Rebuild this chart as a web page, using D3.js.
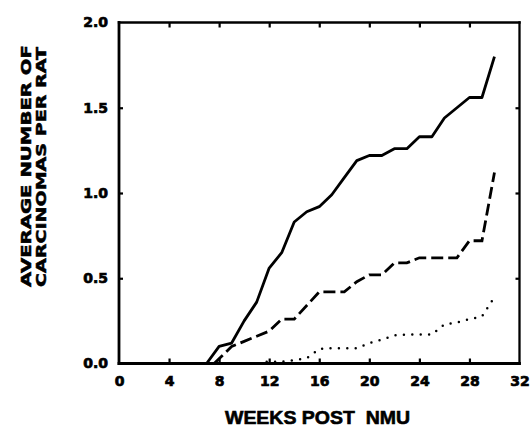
<!DOCTYPE html>
<html>
<head>
<meta charset="utf-8">
<script src="https://cdn.jsdelivr.net/npm/d3@7"></script>
<style>
  html, body { margin: 0; padding: 0; background: #fff; }
  svg { display: block; }
</style>
</head>
<body>
<script>
// ---- data ----
const xTicks = [0, 4, 8, 12, 16, 20, 24, 28, 32];
const yTicks = [0, 0.5, 1.0, 1.5, 2.0];

const solidWeeks  = [7, 8, 9, 10, 11, 12, 13, 14, 15, 16, 17, 18, 19, 20, 21, 22, 23, 24, 25, 26, 27, 28, 29, 30];
const solidValues = [0, 0.10, 0.12, 0.25, 0.36, 0.56, 0.65, 0.83, 0.89, 0.92, 0.99, 1.09, 1.19, 1.22, 1.22, 1.26, 1.26, 1.33, 1.33, 1.44, 1.50, 1.56, 1.56, 1.80];

const dashedWeeks  = [7.6, 9, 10, 11, 12, 13, 14, 15, 16, 17, 18, 19, 20, 21, 22, 23, 24, 25, 26, 27, 28, 29, 30];
const dashedValues = [0, 0.10, 0.13, 0.16, 0.19, 0.26, 0.26, 0.34, 0.42, 0.42, 0.42, 0.48, 0.52, 0.52, 0.59, 0.59, 0.62, 0.62, 0.62, 0.62, 0.72, 0.72, 1.12];

const dottedWeeks  = [11.8, 13, 14, 15, 16, 17, 18, 19, 20, 21, 22, 23, 24, 25, 26, 27, 28, 29, 30];
const dottedValues = [0.01, 0.01, 0.02, 0.03, 0.085, 0.09, 0.09, 0.09, 0.12, 0.14, 0.165, 0.17, 0.17, 0.17, 0.23, 0.24, 0.26, 0.275, 0.39];

const xTitle = "WEEKS POST  NMU";
const yTitle1 = "AVERAGE NUMBER OF";
const yTitle2 = "CARCINOMAS PER RAT";

// ---- layout ----
const W = 531, H = 428;
const svg = d3.select("body").append("svg").attr("width", W).attr("height", H);

const x = d3.scaleLinear().domain([0, 32]).range([119, 519.5]);
const y = d3.scaleLinear().domain([0, 2]).range([363.5, 22.5]);

const tickFont = "'DejaVu Sans', sans-serif";

// axes (ticks inward)
const gB = svg.append("g").attr("transform", `translate(0,${y(0)})`)
  .call(d3.axisBottom(x).tickValues(xTicks).tickSize(-5).tickPadding(13).tickFormat(d3.format("d")));
const gT = svg.append("g").attr("transform", `translate(0,${y(2)})`)
  .call(d3.axisTop(x).tickValues(xTicks.slice(1, -1)).tickSize(-5).tickFormat(""));
const gL = svg.append("g").attr("transform", `translate(${x(0)},0)`)
  .call(d3.axisLeft(y).tickValues(yTicks).tickSize(-4).tickPadding(11).tickFormat(d3.format(".1f")));
const gR = svg.append("g").attr("transform", `translate(${x(32)},0)`)
  .call(d3.axisRight(y).tickValues(yTicks.slice(1, -1)).tickSize(-4).tickFormat(""));

[gB, gT, gL, gR].forEach(g => {
  g.select(".domain").remove();
  g.selectAll(".tick line").attr("stroke", "#000").attr("stroke-width", 2.2);
  g.selectAll("text").attr("fill", "#000").attr("stroke", "#000").attr("stroke-width", 0.7)
    .style("font-family", tickFont).style("font-weight", "bold").style("font-size", "14px");
});
gB.selectAll(".tick").filter(d => d === 0 || d === 32).select("line").remove();
gL.selectAll(".tick").filter(d => d === 0 || d === 2).select("line").remove();

// frame
const frame = svg.append("g").attr("stroke", "#000").attr("fill", "none").attr("stroke-linecap", "square");
frame.append("line").attr("x1", x(0)).attr("x2", x(0)).attr("y1", y(2)).attr("y2", y(0)).attr("stroke-width", 2.8);
frame.append("line").attr("x1", x(0)).attr("x2", x(32)).attr("y1", y(0)).attr("y2", y(0)).attr("stroke-width", 2.8);
frame.append("line").attr("x1", x(0)).attr("x2", x(32)).attr("y1", y(2)).attr("y2", y(2)).attr("stroke-width", 2.3);
frame.append("line").attr("x1", x(32)).attr("x2", x(32)).attr("y1", y(2)).attr("y2", y(0)).attr("stroke-width", 2.3);

// series
const line = d3.line().x(d => x(d[0])).y(d => y(d[1]));
const solid = d3.zip(solidWeeks, solidValues);
const dashed = d3.zip(dashedWeeks, dashedValues);
const dotted = d3.zip(dottedWeeks, dottedValues);

svg.append("path").datum(solid).attr("d", line)
  .attr("fill", "none").attr("stroke", "#000").attr("stroke-width", 2.8).attr("stroke-linejoin", "round");
svg.append("path").datum(dashed).attr("d", line)
  .attr("fill", "none").attr("stroke", "#000").attr("stroke-width", 2.8)
  .attr("stroke-dasharray", "12,5");
svg.append("path").datum(dotted).attr("d", line)
  .attr("fill", "none").attr("stroke", "#000").attr("stroke-width", 2.5)
  .attr("stroke-linecap", "round").attr("stroke-dasharray", "0,8.4");

// titles
svg.append("text").attr("x", 317.5).attr("y", 424).attr("text-anchor", "middle")
  .style("white-space", "pre")
  .attr("stroke", "#000").attr("stroke-width", 0.6)
  .style("font-family", "'Liberation Sans', Arial, sans-serif").style("font-weight", "bold").style("font-size", "18px")
  .attr("textLength", 185).attr("lengthAdjust", "spacingAndGlyphs")
  .text(xTitle);

svg.append("text").attr("transform", "translate(31,166) rotate(-90)").attr("text-anchor", "middle")
  .attr("stroke", "#000").attr("stroke-width", 0.5)
  .style("font-family", tickFont).style("font-weight", "bold").style("font-size", "14.5px")
  .attr("textLength", 242).attr("lengthAdjust", "spacingAndGlyphs")
  .text(yTitle1);
svg.append("text").attr("transform", "translate(45.5,167) rotate(-90)").attr("text-anchor", "middle")
  .attr("stroke", "#000").attr("stroke-width", 0.5)
  .style("font-family", tickFont).style("font-weight", "bold").style("font-size", "14.5px")
  .attr("textLength", 240).attr("lengthAdjust", "spacingAndGlyphs")
  .text(yTitle2);
</script>
</body>
</html>
